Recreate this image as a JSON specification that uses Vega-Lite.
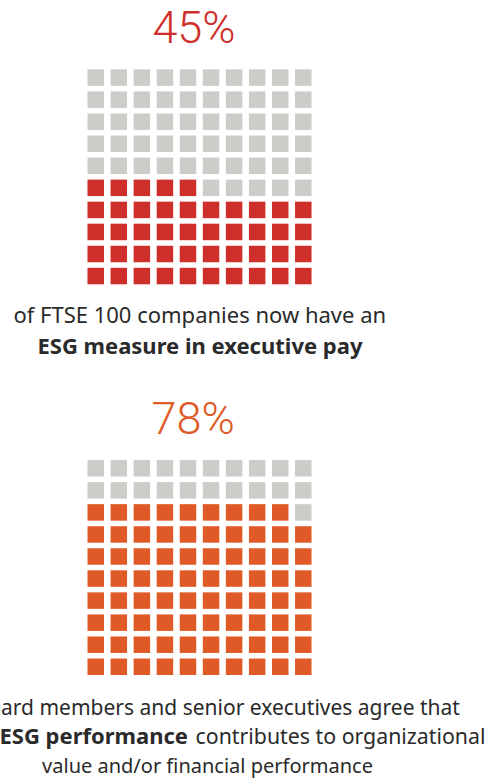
{
  "$schema": "https://vega.github.io/schema/vega-lite/v6.json",
  "width": 488,
  "height": 783,
  "autosize": {"type": "none"},
  "padding": 0,
  "background": "white",
  "config": {"view": {"stroke": null}},
  "datasets": {
    "pay": [
      {"col":0,"row":0,"state":"no"},{"col":1,"row":0,"state":"no"},{"col":2,"row":0,"state":"no"},{"col":3,"row":0,"state":"no"},{"col":4,"row":0,"state":"no"},{"col":5,"row":0,"state":"no"},{"col":6,"row":0,"state":"no"},{"col":7,"row":0,"state":"no"},{"col":8,"row":0,"state":"no"},{"col":9,"row":0,"state":"no"},
      {"col":0,"row":1,"state":"no"},{"col":1,"row":1,"state":"no"},{"col":2,"row":1,"state":"no"},{"col":3,"row":1,"state":"no"},{"col":4,"row":1,"state":"no"},{"col":5,"row":1,"state":"no"},{"col":6,"row":1,"state":"no"},{"col":7,"row":1,"state":"no"},{"col":8,"row":1,"state":"no"},{"col":9,"row":1,"state":"no"},
      {"col":0,"row":2,"state":"no"},{"col":1,"row":2,"state":"no"},{"col":2,"row":2,"state":"no"},{"col":3,"row":2,"state":"no"},{"col":4,"row":2,"state":"no"},{"col":5,"row":2,"state":"no"},{"col":6,"row":2,"state":"no"},{"col":7,"row":2,"state":"no"},{"col":8,"row":2,"state":"no"},{"col":9,"row":2,"state":"no"},
      {"col":0,"row":3,"state":"no"},{"col":1,"row":3,"state":"no"},{"col":2,"row":3,"state":"no"},{"col":3,"row":3,"state":"no"},{"col":4,"row":3,"state":"no"},{"col":5,"row":3,"state":"no"},{"col":6,"row":3,"state":"no"},{"col":7,"row":3,"state":"no"},{"col":8,"row":3,"state":"no"},{"col":9,"row":3,"state":"no"},
      {"col":0,"row":4,"state":"no"},{"col":1,"row":4,"state":"no"},{"col":2,"row":4,"state":"no"},{"col":3,"row":4,"state":"no"},{"col":4,"row":4,"state":"no"},{"col":5,"row":4,"state":"no"},{"col":6,"row":4,"state":"no"},{"col":7,"row":4,"state":"no"},{"col":8,"row":4,"state":"no"},{"col":9,"row":4,"state":"no"},
      {"col":0,"row":5,"state":"yes"},{"col":1,"row":5,"state":"yes"},{"col":2,"row":5,"state":"yes"},{"col":3,"row":5,"state":"yes"},{"col":4,"row":5,"state":"yes"},{"col":5,"row":5,"state":"no"},{"col":6,"row":5,"state":"no"},{"col":7,"row":5,"state":"no"},{"col":8,"row":5,"state":"no"},{"col":9,"row":5,"state":"no"},
      {"col":0,"row":6,"state":"yes"},{"col":1,"row":6,"state":"yes"},{"col":2,"row":6,"state":"yes"},{"col":3,"row":6,"state":"yes"},{"col":4,"row":6,"state":"yes"},{"col":5,"row":6,"state":"yes"},{"col":6,"row":6,"state":"yes"},{"col":7,"row":6,"state":"yes"},{"col":8,"row":6,"state":"yes"},{"col":9,"row":6,"state":"yes"},
      {"col":0,"row":7,"state":"yes"},{"col":1,"row":7,"state":"yes"},{"col":2,"row":7,"state":"yes"},{"col":3,"row":7,"state":"yes"},{"col":4,"row":7,"state":"yes"},{"col":5,"row":7,"state":"yes"},{"col":6,"row":7,"state":"yes"},{"col":7,"row":7,"state":"yes"},{"col":8,"row":7,"state":"yes"},{"col":9,"row":7,"state":"yes"},
      {"col":0,"row":8,"state":"yes"},{"col":1,"row":8,"state":"yes"},{"col":2,"row":8,"state":"yes"},{"col":3,"row":8,"state":"yes"},{"col":4,"row":8,"state":"yes"},{"col":5,"row":8,"state":"yes"},{"col":6,"row":8,"state":"yes"},{"col":7,"row":8,"state":"yes"},{"col":8,"row":8,"state":"yes"},{"col":9,"row":8,"state":"yes"},
      {"col":0,"row":9,"state":"yes"},{"col":1,"row":9,"state":"yes"},{"col":2,"row":9,"state":"yes"},{"col":3,"row":9,"state":"yes"},{"col":4,"row":9,"state":"yes"},{"col":5,"row":9,"state":"yes"},{"col":6,"row":9,"state":"yes"},{"col":7,"row":9,"state":"yes"},{"col":8,"row":9,"state":"yes"},{"col":9,"row":9,"state":"yes"}
    ],
    "perf": [
      {"col":0,"row":0,"state":"no"},{"col":1,"row":0,"state":"no"},{"col":2,"row":0,"state":"no"},{"col":3,"row":0,"state":"no"},{"col":4,"row":0,"state":"no"},{"col":5,"row":0,"state":"no"},{"col":6,"row":0,"state":"no"},{"col":7,"row":0,"state":"no"},{"col":8,"row":0,"state":"no"},{"col":9,"row":0,"state":"no"},
      {"col":0,"row":1,"state":"no"},{"col":1,"row":1,"state":"no"},{"col":2,"row":1,"state":"no"},{"col":3,"row":1,"state":"no"},{"col":4,"row":1,"state":"no"},{"col":5,"row":1,"state":"no"},{"col":6,"row":1,"state":"no"},{"col":7,"row":1,"state":"no"},{"col":8,"row":1,"state":"no"},{"col":9,"row":1,"state":"no"},
      {"col":0,"row":2,"state":"yes"},{"col":1,"row":2,"state":"yes"},{"col":2,"row":2,"state":"yes"},{"col":3,"row":2,"state":"yes"},{"col":4,"row":2,"state":"yes"},{"col":5,"row":2,"state":"yes"},{"col":6,"row":2,"state":"yes"},{"col":7,"row":2,"state":"yes"},{"col":8,"row":2,"state":"yes"},{"col":9,"row":2,"state":"no"},
      {"col":0,"row":3,"state":"yes"},{"col":1,"row":3,"state":"yes"},{"col":2,"row":3,"state":"yes"},{"col":3,"row":3,"state":"yes"},{"col":4,"row":3,"state":"yes"},{"col":5,"row":3,"state":"yes"},{"col":6,"row":3,"state":"yes"},{"col":7,"row":3,"state":"yes"},{"col":8,"row":3,"state":"yes"},{"col":9,"row":3,"state":"yes"},
      {"col":0,"row":4,"state":"yes"},{"col":1,"row":4,"state":"yes"},{"col":2,"row":4,"state":"yes"},{"col":3,"row":4,"state":"yes"},{"col":4,"row":4,"state":"yes"},{"col":5,"row":4,"state":"yes"},{"col":6,"row":4,"state":"yes"},{"col":7,"row":4,"state":"yes"},{"col":8,"row":4,"state":"yes"},{"col":9,"row":4,"state":"yes"},
      {"col":0,"row":5,"state":"yes"},{"col":1,"row":5,"state":"yes"},{"col":2,"row":5,"state":"yes"},{"col":3,"row":5,"state":"yes"},{"col":4,"row":5,"state":"yes"},{"col":5,"row":5,"state":"yes"},{"col":6,"row":5,"state":"yes"},{"col":7,"row":5,"state":"yes"},{"col":8,"row":5,"state":"yes"},{"col":9,"row":5,"state":"yes"},
      {"col":0,"row":6,"state":"yes"},{"col":1,"row":6,"state":"yes"},{"col":2,"row":6,"state":"yes"},{"col":3,"row":6,"state":"yes"},{"col":4,"row":6,"state":"yes"},{"col":5,"row":6,"state":"yes"},{"col":6,"row":6,"state":"yes"},{"col":7,"row":6,"state":"yes"},{"col":8,"row":6,"state":"yes"},{"col":9,"row":6,"state":"yes"},
      {"col":0,"row":7,"state":"yes"},{"col":1,"row":7,"state":"yes"},{"col":2,"row":7,"state":"yes"},{"col":3,"row":7,"state":"yes"},{"col":4,"row":7,"state":"yes"},{"col":5,"row":7,"state":"yes"},{"col":6,"row":7,"state":"yes"},{"col":7,"row":7,"state":"yes"},{"col":8,"row":7,"state":"yes"},{"col":9,"row":7,"state":"yes"},
      {"col":0,"row":8,"state":"yes"},{"col":1,"row":8,"state":"yes"},{"col":2,"row":8,"state":"yes"},{"col":3,"row":8,"state":"yes"},{"col":4,"row":8,"state":"yes"},{"col":5,"row":8,"state":"yes"},{"col":6,"row":8,"state":"yes"},{"col":7,"row":8,"state":"yes"},{"col":8,"row":8,"state":"yes"},{"col":9,"row":8,"state":"yes"},
      {"col":0,"row":9,"state":"yes"},{"col":1,"row":9,"state":"yes"},{"col":2,"row":9,"state":"yes"},{"col":3,"row":9,"state":"yes"},{"col":4,"row":9,"state":"yes"},{"col":5,"row":9,"state":"yes"},{"col":6,"row":9,"state":"yes"},{"col":7,"row":9,"state":"yes"},{"col":8,"row":9,"state":"yes"},{"col":9,"row":9,"state":"yes"}
    ]
  },
  "layer": [
    {
      "layer": [
        {
          "data": {"name": "pay"},
          "mark": {"type": "square", "size": 272, "filled": true, "opacity": 1},
          "encoding": {
            "x": {"field": "col", "type": "quantitative", "scale": {"domain": [-4.152, 17.01], "nice": false, "zero": false}, "axis": null},
            "y": {"field": "row", "type": "quantitative", "scale": {"domain": [-3.519, 31.99], "reverse": true, "nice": false, "zero": false}, "axis": null},
            "color": {"field": "state", "type": "nominal", "scale": {"domain": ["yes", "no"], "range": ["#cf2f2b", "#cdccc8"]}, "legend": null}
          }
        },
        {
          "data": {"values": [{}]},
          "mark": {"type": "text", "text": "45%", "font": "Roboto", "fontWeight": 300, "fontSize": 45, "color": "#cf2f2b", "align": "center", "baseline": "alphabetic"},
          "encoding": {"x": {"datum": 4.26, "type": "quantitative"}, "y": {"datum": -1.556, "type": "quantitative"}}
        },
        {
          "data": {"values": [{}]},
          "mark": {"type": "text", "text": "of FTSE 100 companies now have an", "font": "Noto Sans", "fontSize": 22, "color": "#2a2a2a", "align": "center", "baseline": "alphabetic"},
          "encoding": {"x": {"datum": 4.51, "type": "quantitative"}, "y": {"datum": 11.14, "type": "quantitative"}}
        },
        {
          "data": {"values": [{}]},
          "mark": {"type": "text", "text": "ESG measure in executive pay", "font": "Noto Sans", "fontWeight": "bold", "fontSize": 22, "color": "#2a2a2a", "align": "center", "baseline": "alphabetic"},
          "encoding": {"x": {"datum": 4.52, "type": "quantitative"}, "y": {"datum": 12.55, "type": "quantitative"}}
        }
      ]
    },
    {
      "layer": [
        {
          "data": {"name": "perf"},
          "mark": {"type": "square", "size": 272, "filled": true, "opacity": 1},
          "encoding": {
            "x": {"field": "col", "type": "quantitative", "axis": null},
            "y": {"field": "row", "type": "quantitative", "scale": {"domain": [-21.238, 14.272], "reverse": true, "nice": false, "zero": false}, "axis": null},
            "color": {"field": "state", "type": "nominal", "scale": {"domain": ["yes", "no"], "range": ["#e05a27", "#cdccc8"]}, "legend": null}
          }
        },
        {
          "data": {"values": [{}]},
          "mark": {"type": "text", "text": "78%", "font": "Roboto", "fontWeight": 300, "fontSize": 45, "color": "#e05a27", "align": "center", "baseline": "alphabetic"},
          "encoding": {"x": {"datum": 4.22, "type": "quantitative"}, "y": {"datum": -1.533, "type": "quantitative"}}
        },
        {
          "data": {"values": [{}]},
          "mark": {"type": "text", "text": "of board members and senior executives agree that", "font": "Noto Sans", "fontSize": 21, "color": "#2a2a2a", "align": "right", "baseline": "alphabetic"},
          "encoding": {"x": {"datum": 15.79, "type": "quantitative"}, "y": {"datum": 11.19, "type": "quantitative"}}
        },
        {
          "data": {"values": [{}]},
          "mark": {"type": "text", "text": "ESG performance", "font": "Noto Sans", "fontWeight": "bold", "fontSize": 22, "color": "#2a2a2a", "align": "right", "baseline": "alphabetic"},
          "encoding": {"x": {"datum": 4.0, "type": "quantitative"}, "y": {"datum": 12.5, "type": "quantitative"}}
        },
        {
          "data": {"values": [{}]},
          "mark": {"type": "text", "text": "contributes to organizational", "font": "Noto Sans", "fontSize": 21.3, "color": "#2a2a2a", "align": "left", "baseline": "alphabetic"},
          "encoding": {"x": {"datum": 4.33, "type": "quantitative"}, "y": {"datum": 12.5, "type": "quantitative"}}
        },
        {
          "data": {"values": [{}]},
          "mark": {"type": "text", "text": "value and/or financial performance", "font": "Noto Sans", "fontSize": 20, "color": "#2a2a2a", "align": "center", "baseline": "alphabetic"},
          "encoding": {"x": {"datum": 4.846, "type": "quantitative"}, "y": {"datum": 13.82, "type": "quantitative"}}
        }
      ]
    }
  ],
  "resolve": {"scale": {"y": "independent", "color": "independent"}}
}
